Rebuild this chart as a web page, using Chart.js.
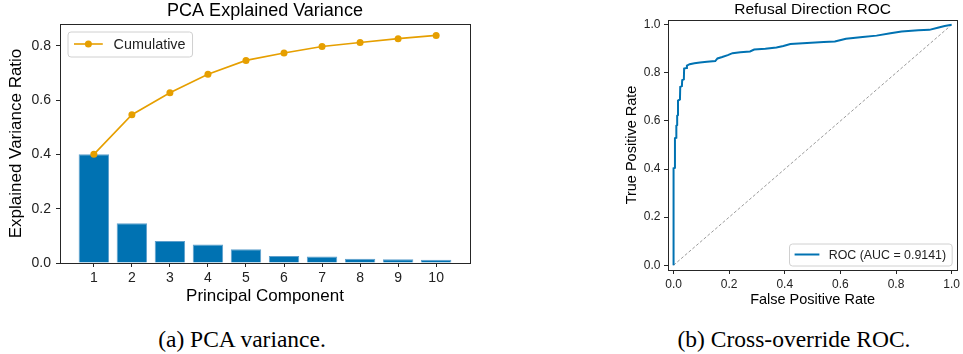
<!DOCTYPE html>
<html>
<head>
<meta charset="utf-8">
<script src="https://cdn.jsdelivr.net/npm/chart.js@4.4.1/dist/chart.umd.min.js"></script>
<style>
  body { margin: 0; background: #fff; }
  #wrap { position: relative; width: 963px; height: 354px; overflow: hidden; background: #fff; }
  canvas { position: absolute; top: 0; }
  .cap { position: absolute; top: 326px; width: 340px; line-height: 26px; text-align: center;
         font-family: 'Liberation Serif', 'Times New Roman', serif; font-size: 23.5px; color: #000; }
</style>
</head>
<body>
<div id="wrap">
  <canvas id="pcaChart" width="480" height="310" style="left:0"></canvas>
  <canvas id="rocChart" width="363" height="315" style="left:600px"></canvas>
  <div class="cap" style="left:72px">(a) PCA variance.</div>
  <div class="cap" style="left:624px">(b) Cross-override ROC.</div>
</div>
<script>
'use strict';

Chart.defaults.font.family = "'Liberation Sans', Arial, sans-serif";
Chart.defaults.color = '#222';
Chart.defaults.animation = false;

// PCA panel
let components = [1, 2, 3, 4, 5, 6, 7, 8, 9, 10];
let variance = [0.400, 0.146, 0.081, 0.068, 0.051, 0.026, 0.024, 0.016, 0.014, 0.012];
let cumulative = [0.400, 0.546, 0.627, 0.695, 0.746, 0.773, 0.797, 0.812, 0.826, 0.838];
let pcaTicks = [0, 0.2, 0.4, 0.6, 0.8];

// ROC panel
let rocFpr = [0, 0, 0.005, 0.005, 0.010, 0.010, 0.013, 0.013, 0.016, 0.016, 0.023, 0.024,
  0.030, 0.031, 0.037, 0.038, 0.046, 0.048, 0.058, 0.075, 0.095, 0.120, 0.150, 0.158,
  0.175, 0.195, 0.212, 0.240, 0.275, 0.290, 0.330, 0.370, 0.395, 0.420, 0.480, 0.540,
  0.580, 0.620, 0.680, 0.730, 0.780, 0.820, 0.880, 0.920, 0.950, 0.975, 1.000];
let rocTpr = [0, 0.403, 0.405, 0.528, 0.530, 0.580, 0.583, 0.622, 0.625, 0.685, 0.690, 0.742,
  0.745, 0.770, 0.773, 0.818, 0.820, 0.830, 0.836, 0.840, 0.843, 0.846, 0.849, 0.860,
  0.866, 0.874, 0.882, 0.886, 0.889, 0.897, 0.900, 0.906, 0.912, 0.920, 0.924, 0.928,
  0.931, 0.942, 0.949, 0.955, 0.965, 0.972, 0.977, 0.979, 0.988, 0.995, 1.000];
let chanceLine = [0, 1];
let rocAuc = 0.9141;
let rocTicks = [0, 0.2, 0.4, 0.6, 0.8, 1.0];

const AXIS = '#262626';

// box round the plot, like matplotlib spines
const framePlugin = {
  id: 'frame',
  afterDraw(chart) {
    const a = chart.chartArea;
    const c = chart.ctx;
    c.save();
    c.strokeStyle = AXIS;
    c.lineWidth = 1;
    c.strokeRect(Math.round(a.left) + 0.5, Math.round(a.top) + 0.5,
      Math.round(a.right - a.left), Math.round(a.bottom - a.top));
    c.restore();
  }
};

// title centred over the plot area, not the whole canvas
const plotTitle = {
  id: 'plotTitle',
  afterDraw(chart, args, o) {
    const a = chart.chartArea;
    const c = chart.ctx;
    c.save();
    c.font = o.size + "px 'Liberation Sans', Arial, sans-serif";
    c.fillStyle = '#000';
    c.textAlign = 'center';
    c.textBaseline = 'middle';
    c.fillText(o.text, (a.left + a.right) / 2, o.y);
    c.restore();
  }
};

// legend drawn inside the plot area
const boxLegend = {
  id: 'boxLegend',
  afterDraw(chart, args, o) {
    const a = chart.chartArea;
    const c = chart.ctx;
    const s = o.size;
    c.save();
    c.font = s + "px 'Liberation Sans', Arial, sans-serif";
    const tw = c.measureText(o.text).width;
    const pad = 0.45 * s, handle = 2 * s, gap = 0.75 * s;
    const w = pad + handle + gap + tw + pad;
    const h = o.height;
    let x = o.corner === 'tl' ? a.left + o.dx : a.right - o.dx - w;
    let y = o.corner === 'tl' ? a.top + o.dy : a.bottom - o.dy - h;
    c.beginPath();
    c.roundRect(x + 0.5, y + 0.5, w, h, 3);
    c.fillStyle = 'rgba(255,255,255,0.85)';
    c.fill();
    c.strokeStyle = '#d0d0d0';
    c.lineWidth = 1;
    c.stroke();
    const cy = y + h / 2;
    c.strokeStyle = o.color;
    c.lineWidth = o.lineWidth;
    c.beginPath();
    c.moveTo(x + pad, cy);
    c.lineTo(x + pad + handle, cy);
    c.stroke();
    if (o.marker) {
      c.fillStyle = o.color;
      c.beginPath();
      c.arc(x + pad + handle / 2, cy, 3.5, 0, Math.PI * 2);
      c.fill();
    }
    c.fillStyle = '#222';
    c.textBaseline = 'middle';
    c.textAlign = 'left';
    c.fillText(o.text, x + pad + handle + gap, cy + 1);
    c.restore();
  }
};

function tickList(values) {
  return function (scale) {
    scale.ticks = values.map(v => ({ value: v }));
  };
}

new Chart(document.getElementById('pcaChart'), {
  type: 'bar',
  data: {
    datasets: [{
      type: 'line',
      label: 'Cumulative',
      data: components.map((c, i) => ({ x: c, y: cumulative[i] })),
      borderColor: '#E69F00',
      backgroundColor: '#E69F00',
      borderWidth: 1.6,
      pointRadius: 3.5,
      pointBorderWidth: 0,
      tension: 0,
      order: 0
    }, {
      type: 'bar',
      label: 'Explained Variance',
      data: components.map((c, i) => ({ x: c, y: variance[i] })),
      backgroundColor: '#0072B2',
      borderColor: '#5e9fcc',
      borderWidth: 1,
      barPercentage: 0.8,
      categoryPercentage: 1,
      order: 1
    }]
  },
  options: {
    responsive: false,
    layout: { padding: { left: 0, right: 10, top: 24, bottom: 0 } },
    plugins: {
      legend: { display: false },
      tooltip: { enabled: false },
      title: { display: false },
      plotTitle: { text: 'PCA Explained Variance', size: 18, y: 11 },
      boxLegend: { text: 'Cumulative', size: 14.4, height: 25, color: '#E69F00',
        lineWidth: 1.6, marker: true, corner: 'tl', dx: 7.5, dy: 7.5 }
    },
    scales: {
      x: {
        type: 'linear',
        min: 0.11,
        max: 10.89,
        offset: false,
        afterBuildTicks: tickList(components),
        afterFit: s => { s.height = 47; },
        grid: { offset: false, drawOnChartArea: false, tickLength: 4, color: AXIS },
        border: { color: AXIS },
        ticks: { font: { size: 14 }, padding: 3, maxRotation: 0, autoSkip: false },
        title: { display: true, text: 'Principal Component', color: '#000',
          font: { size: 17 }, padding: { top: 0, bottom: 3 } }
      },
      y: {
        min: 0,
        max: 0.88,
        afterBuildTicks: tickList(pcaTicks),
        afterFit: s => { s.width = 60; },
        grid: { drawOnChartArea: false, tickLength: 4, color: AXIS },
        border: { color: AXIS },
        ticks: { font: { size: 14 }, padding: 5, callback: v => v.toFixed(1) },
        title: { display: true, text: 'Explained Variance Ratio', color: '#000',
          font: { size: 17 }, padding: { top: 6, bottom: 0 } }
      }
    }
  },
  plugins: [framePlugin, plotTitle, boxLegend]
});

new Chart(document.getElementById('rocChart'), {
  type: 'line',
  data: {
    datasets: [{
      label: 'ROC (AUC = ' + rocAuc.toFixed(4) + ')',
      data: rocFpr.map((x, i) => ({ x: x, y: rocTpr[i] })),
      borderColor: '#0072B2',
      borderWidth: 2,
      pointRadius: 0,
      tension: 0,
      order: 0
    }, {
      label: 'Chance',
      data: chanceLine.map(v => ({ x: v, y: v })),
      borderColor: '#9a9a9a',
      borderWidth: 1,
      borderDash: [3, 2],
      pointRadius: 0,
      order: 1
    }]
  },
  options: {
    responsive: false,
    layout: { padding: { left: 0, right: 2, top: 20, bottom: 0 } },
    plugins: {
      legend: { display: false },
      tooltip: { enabled: false },
      title: { display: false },
      plotTitle: { text: 'Refusal Direction ROC', size: 15.5, y: 9.5 },
      boxLegend: { text: 'ROC (AUC = ' + rocAuc.toFixed(4) + ')', size: 12.4, height: 22,
        color: '#0072B2', lineWidth: 2, marker: false, corner: 'br', dx: 5.5, dy: 4.5 }
    },
    scales: {
      x: {
        type: 'linear',
        min: -0.02,
        max: 1.02,
        afterBuildTicks: tickList(rocTicks),
        afterFit: s => { s.height = 45; },
        grid: { drawOnChartArea: false, tickLength: 4, color: AXIS },
        border: { color: AXIS },
        ticks: { font: { size: 12 }, padding: 3, maxRotation: 0, autoSkip: false,
          callback: v => v.toFixed(1) },
        title: { display: true, text: 'False Positive Rate', color: '#000',
          font: { size: 14.5 }, padding: { top: 0, bottom: 6 } }
      },
      y: {
        type: 'linear',
        min: -0.02,
        max: 1.02,
        afterBuildTicks: tickList(rocTicks),
        afterFit: s => { s.width = 68; },
        grid: { drawOnChartArea: false, tickLength: 4, color: AXIS },
        border: { color: AXIS },
        ticks: { font: { size: 12 }, padding: 3.5, callback: v => v.toFixed(1) },
        title: { display: true, text: 'True Positive Rate', color: '#000',
          font: { size: 14.5 }, padding: { top: 23, bottom: 0 } }
      }
    }
  },
  plugins: [framePlugin, plotTitle, boxLegend]
});
</script>
</body>
</html>
